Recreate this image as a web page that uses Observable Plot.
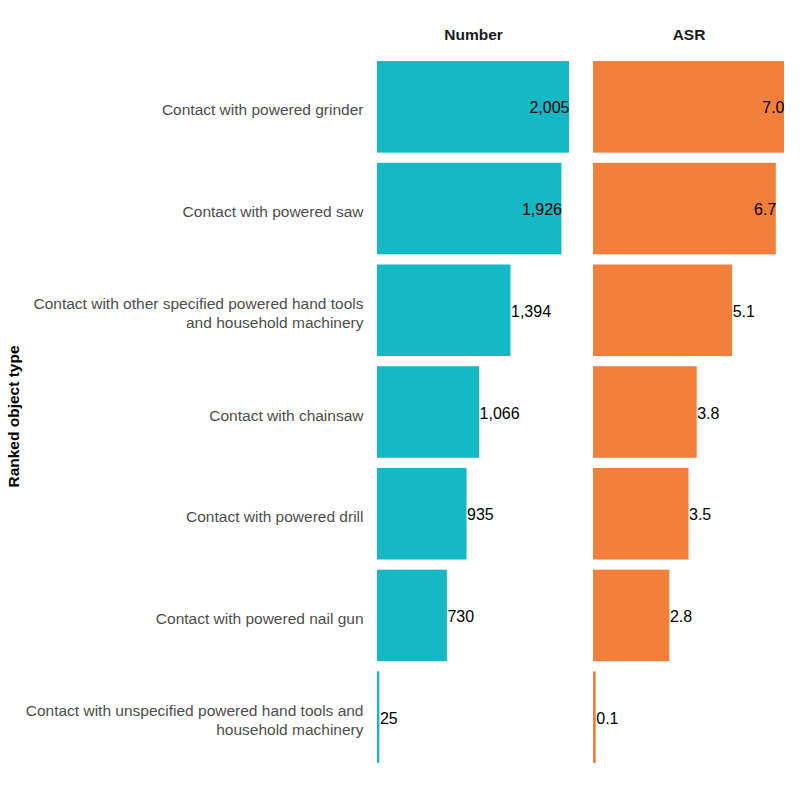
<!DOCTYPE html>
<html>
<head>
<meta charset="utf-8">
<script src="https://cdn.jsdelivr.net/npm/d3@7"></script>
<script src="https://cdn.jsdelivr.net/npm/@observablehq/plot@0.6"></script>
<style>
  html, body { margin: 0; padding: 0; background: #fff; }
  #chart { display: flex; width: 800px; height: 800px; }
  #chart svg { display: block; }
</style>
</head>
<body>
<div id="chart"></div>
<script>
const categories = [
  "Contact with powered grinder",
  "Contact with powered saw",
  "Contact with other specified powered hand tools and household machinery",
  "Contact with chainsaw",
  "Contact with powered drill",
  "Contact with powered nail gun",
  "Contact with unspecified powered hand tools and household machinery"
];
const tickLabels = [
  "Contact with powered grinder",
  "Contact with powered saw",
  "Contact with other specified powered hand tools\nand household machinery",
  "Contact with chainsaw",
  "Contact with powered drill",
  "Contact with powered nail gun",
  "Contact with unspecified powered hand tools and\nhousehold machinery"
];
const numbers = [2005, 1926, 1394, 1066, 935, 730, 25];
const asr = [7.0, 6.7, 5.1, 3.8, 3.5, 2.8, 0.1];
const panelTitles = ["Number", "ASR"];
const yTitle = "Ranked object type";

const data = categories.map((c, i) => ({category: c, number: numbers[i], asr: asr[i]}));
const labelOf = new Map(categories.map((c, i) => [c, tickLabels[i]]));

const teal = "#14B9C5";
const orange = "#F37F3A";
const font = "'Liberation Sans', Arial, sans-serif";

const yScale = {domain: categories, paddingInner: 0.1, paddingOuter: 0.05, round: false};

function valueLabels(field, max, fmt) {
  const inside = d => d[field] / max > 0.8;
  return [
    Plot.text(data, {filter: inside, x: field, y: "category", text: d => fmt(d[field]),
      textAnchor: "end", fontSize: 16, fill: "black", dy: 1}),
    Plot.text(data, {filter: d => !inside(d), x: field, y: "category", text: d => fmt(d[field]),
      textAnchor: "start", fontSize: 16, fill: "black", dy: 1})
  ];
}

const maxN = d3.max(numbers);
const maxA = d3.max(asr);

const left = Plot.plot({
  width: 585, height: 800,
  marginLeft: 377, marginRight: 16, marginTop: 56, marginBottom: 32,
  style: {fontFamily: font, fontSize: "15px", background: "white"},
  x: {domain: [0, maxN], axis: null},
  y: {...yScale, axis: null},
  marks: [
    Plot.barX(data, {x: "number", y: "category", fill: teal}),
    Plot.axisY({tickSize: 0, tickPadding: 14, label: null, fill: "#4d4d4d", dy: 2,
      fontSize: 15.5, lineHeight: 1.22, tickFormat: d => labelOf.get(d)}),
    ...valueLabels("number", maxN, d3.format(",")),
    Plot.text([panelTitles[0]], {frameAnchor: "top", dy: -28, fontWeight: "bold", fontSize: 15.5, fill: "#1a1a1a"}),
    Plot.text([yTitle], {frameAnchor: "left", textAnchor: "middle", dx: -363, dy: 4, rotate: -90, fontWeight: "bold", fontSize: 15.5, fill: "#000"})
  ]
});

const right = Plot.plot({
  width: 215, height: 800,
  marginLeft: 8, marginRight: 16, marginTop: 56, marginBottom: 32,
  style: {fontFamily: font, fontSize: "15px", background: "white"},
  x: {domain: [0, maxA], axis: null},
  y: {...yScale, axis: null},
  marks: [
    Plot.barX(data, {x: "asr", y: "category", fill: orange}),
    ...valueLabels("asr", maxA, d3.format(".1f")),
    Plot.text([panelTitles[1]], {frameAnchor: "top", dy: -28, fontWeight: "bold", fontSize: 15.5, fill: "#1a1a1a"})
  ]
});

const chart = document.getElementById("chart");
chart.appendChild(left);
chart.appendChild(right);
</script>
</body>
</html>
